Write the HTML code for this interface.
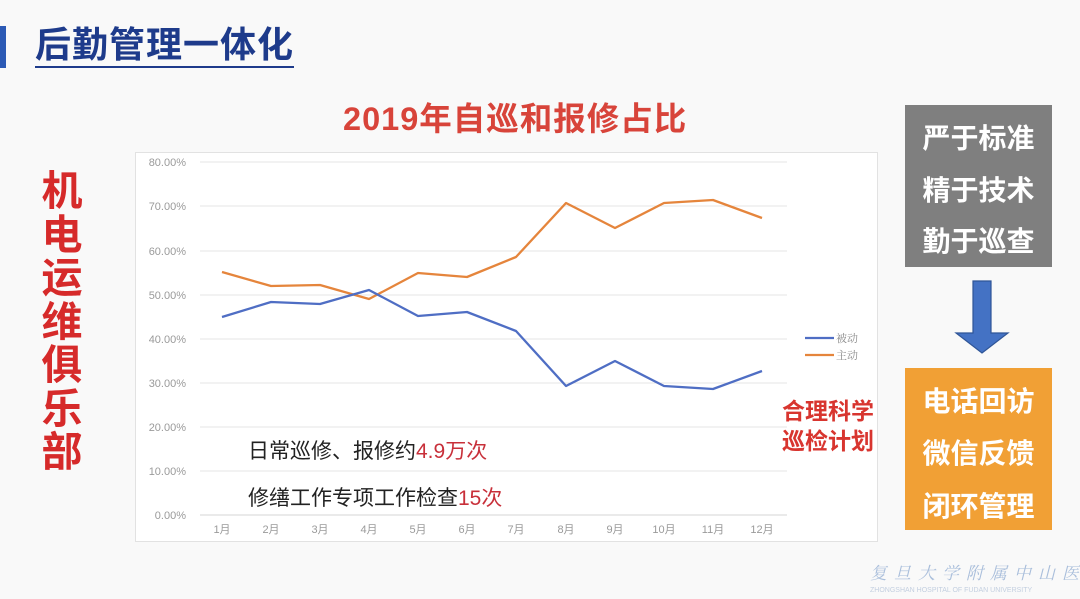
<!DOCTYPE html>
<html>
<head>
<meta charset="utf-8">
<style>
  html, body { margin:0; padding:0; }
  body { width:1080px; height:599px; position:relative; overflow:hidden; background:#f9f9f9;
    font-family:"Liberation Sans","Noto Sans CJK SC",sans-serif; }
  .abs { position:absolute; white-space:nowrap; }
  .bar { left:0; top:26px; width:6px; height:42px; background:#2c5ab5; }
  .h1 { left:35px; top:24px; font-size:36px; line-height:42px; font-weight:bold; color:#1e3b8b;
    letter-spacing:1px; border-bottom:2px solid #1e3b8b; padding-bottom:0px; }
  .ctitle { left:343px; top:101px; font-size:32.5px; line-height:36px; font-weight:bold; color:#d8443a; letter-spacing:1px; }
  .vert { left:40px; top:170px; width:44px; font-size:41px; line-height:43.5px; font-weight:bold; color:#d62a2a; white-space:normal; text-align:center; }
  .gray { left:905px; top:105px; width:147px; height:162px; background:#7f7f7f; }
  .orange { left:905px; top:368px; width:147px; height:162px; background:#f1a035; }
  .btxt { position:absolute; left:0; width:147px; text-align:center; color:#fff; font-weight:bold; font-size:28px; line-height:32px; }
  .red2 { left:782px; font-size:23px; line-height:26px; font-weight:bold; color:#d8352f; }
</style>
</head>
<body>
<div class="abs bar"></div>
<div class="abs h1">后勤管理一体化</div>
<div class="abs ctitle">2019年自巡和报修占比</div>
<div class="abs vert">机电运维俱乐部</div>

<svg class="abs" style="left:0;top:0" width="1080" height="599" viewBox="0 0 1080 599">
  <rect x="135.5" y="152.5" width="742" height="389" fill="#ffffff" stroke="#e2e2e2" stroke-width="1"/>
  <g stroke="#e6e6e6" stroke-width="1">
    <line x1="200" y1="162" x2="787" y2="162"/>
    <line x1="200" y1="206" x2="787" y2="206"/>
    <line x1="200" y1="251" x2="787" y2="251"/>
    <line x1="200" y1="295" x2="787" y2="295"/>
    <line x1="200" y1="339" x2="787" y2="339"/>
    <line x1="200" y1="383" x2="787" y2="383"/>
    <line x1="200" y1="427" x2="787" y2="427"/>
    <line x1="200" y1="471" x2="787" y2="471"/>
  </g>
  <line x1="200" y1="515" x2="787" y2="515" stroke="#d6d6d6" stroke-width="1"/>
  <g font-family="Liberation Sans, sans-serif" font-size="11" fill="#9a9a9a" text-anchor="end">
    <text x="186" y="166">80.00%</text>
    <text x="186" y="210">70.00%</text>
    <text x="186" y="255">60.00%</text>
    <text x="186" y="299">50.00%</text>
    <text x="186" y="343">40.00%</text>
    <text x="186" y="387">30.00%</text>
    <text x="186" y="431">20.00%</text>
    <text x="186" y="475">10.00%</text>
    <text x="186" y="519">0.00%</text>
  </g>
  <g font-family="Liberation Sans, Noto Sans CJK SC, sans-serif" font-size="11" fill="#9a9a9a" text-anchor="middle">
    <text x="222" y="533">1月</text>
    <text x="271" y="533">2月</text>
    <text x="320" y="533">3月</text>
    <text x="369" y="533">4月</text>
    <text x="418" y="533">5月</text>
    <text x="467" y="533">6月</text>
    <text x="516" y="533">7月</text>
    <text x="566" y="533">8月</text>
    <text x="615" y="533">9月</text>
    <text x="664" y="533">10月</text>
    <text x="713" y="533">11月</text>
    <text x="762" y="533">12月</text>
  </g>
  <polyline fill="none" stroke="#e5853c" stroke-width="2.3" stroke-linejoin="round"
    points="222,272 271,286 320,285 369,299 418,273 467,277 516,257 566,203 615,228 664,203 713,200 762,218"/>
  <polyline fill="none" stroke="#4f6ec4" stroke-width="2.3" stroke-linejoin="round"
    points="222,317 271,302 320,304 369,290 418,316 467,312 516,331 566,386 615,361 664,386 713,389 762,371"/>
  <line x1="805" y1="338" x2="834" y2="338" stroke="#4f6ec4" stroke-width="2.3"/>
  <line x1="805" y1="355" x2="834" y2="355" stroke="#e5853c" stroke-width="2.3"/>
  <g font-family="Liberation Serif, Noto Serif CJK SC, serif" font-size="11" fill="#8a8a8a">
    <text x="836" y="342">被动</text>
    <text x="836" y="359">主动</text>
  </g>
  <g font-family="Liberation Sans, Noto Sans CJK SC, sans-serif" font-size="21" fill="#222">
    <text x="248" y="458">日常巡修、报修约<tspan fill="#c8303a">4.9万次</tspan></text>
    <text x="248" y="505">修缮工作专项工作检查<tspan fill="#c8303a">15次</tspan></text>
  </g>
  <!-- arrow -->
  <path d="M973,281 L991,281 L991,333 L1008,333 L982,353 L956,333 L973,333 Z" fill="#4472c4" stroke="#2f5597" stroke-width="1.2"/>
  <!-- watermark -->
  <g font-family="Noto Serif CJK SC, serif" font-size="17" fill="#a9bedb" font-style="italic">
    <text x="870" y="579" letter-spacing="7">复旦大学附属中山医院</text>
  </g>
  <text x="870" y="592" font-family="Liberation Sans, sans-serif" font-size="7" fill="#c3cfe0">ZHONGSHAN HOSPITAL OF FUDAN UNIVERSITY</text>
</svg>

<div class="abs gray">
  <div class="btxt" style="top:18px">严于标准</div>
  <div class="btxt" style="top:70px">精于技术</div>
  <div class="btxt" style="top:121px">勤于巡查</div>
</div>
<div class="abs orange">
  <div class="btxt" style="top:18px">电话回访</div>
  <div class="btxt" style="top:70px">微信反馈</div>
  <div class="btxt" style="top:123px">闭环管理</div>
</div>
<div class="abs red2" style="top:398px">合理科学</div>
<div class="abs red2" style="top:428px">巡检计划</div>
</body>
</html>
